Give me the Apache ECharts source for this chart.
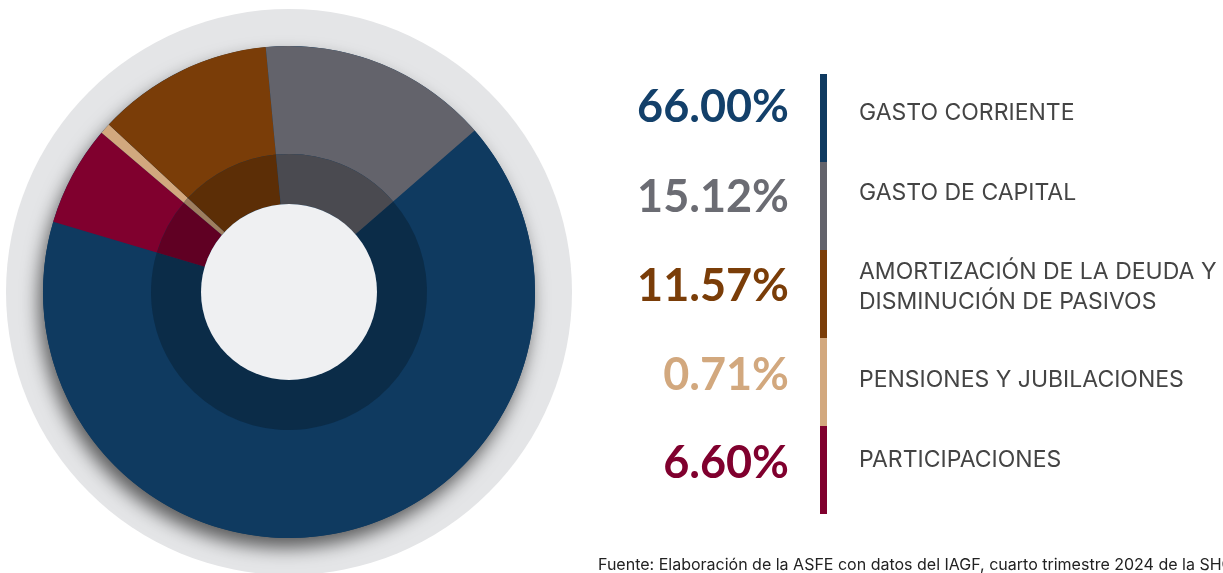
<!DOCTYPE html>
<html>
<head>
<meta charset="utf-8">
<script src="https://cdn.jsdelivr.net/npm/echarts@6/dist/echarts.min.js"></script>
<style>
  html, body { margin: 0; padding: 0; background: #fff; overflow: hidden; }
  #main { width: 1223px; height: 573px; }
</style>
</head>
<body>
<div id="main"></div>
<script>
// data, in pie order (clockwise from the top right)
var categories = [
  'GASTO CORRIENTE',
  'PARTICIPACIONES',
  'PENSIONES Y JUBILACIONES',
  'AMORTIZACIÓN DE LA DEUDA Y\nDISMINUCIÓN DE PASIVOS',
  'GASTO DE CAPITAL'
];
var shares = [66.00, 6.60, 0.71, 11.57, 15.12];
var colors = ['#0f3a60', '#80002e', '#d2a87e', '#7a3d08', '#63636b'];
var textColors = ['#13406a', '#80002e', '#d2a87e', '#7a3d08', '#6b6c73'];
// order of the rows on the right, top to bottom
var legendOrder = [0, 4, 3, 2, 1];
var source = 'Fuente: Elaboración de la ASFE con datos del IAGF, cuarto trimestre 2024 de la SHCP.';

(function () {
  var myChart = echarts.init(document.getElementById('main'));
  var center = [289, 292];

  function darken(hex, f) {
    var n = parseInt(hex.slice(1), 16);
    var r = Math.round(((n >> 16) & 255) * f);
    var g = Math.round(((n >> 8) & 255) * f);
    var b = Math.round((n & 255) * f);
    return 'rgb(' + r + ',' + g + ',' + b + ')';
  }

  var pieData = categories.map(function (c, i) {
    return { name: c, value: shares[i], itemStyle: { color: colors[i] } };
  });
  var innerData = categories.map(function (c, i) {
    return { name: c, value: shares[i], itemStyle: { color: darken(colors[i], 0.75) } };
  });

  function plainCircle(r, color, extra) {
    return {
      type: 'pie',
      center: center,
      radius: r,
      silent: true,
      animation: false,
      label: { show: false },
      labelLine: { show: false },
      itemStyle: Object.assign({ color: color, borderWidth: 0 }, extra || {}),
      data: [{ value: 1 }]
    };
  }

  // right side rows
  var graphics = [];
  var rowTop = 74, rowH = 88;
  var pctY = [107, 197, 286, 375, 463];
  var labelY = [113, 193, 287, 380, 460];
  legendOrder.forEach(function (idx, k) {
    graphics.push({
      type: 'rect',
      shape: { x: 820, y: rowTop + rowH * k, width: 7, height: rowH },
      style: { fill: colors[idx] }
    });
    graphics.push({
      type: 'text',
      x: 789, y: pctY[k],
      style: {
        text: shares[idx].toFixed(2) + '%',
        fill: textColors[idx],
        font: 'bold 45px Lato',
        align: 'right',
        verticalAlign: 'middle'
      }
    });
    graphics.push({
      type: 'text',
      x: 859, y: labelY[k],
      style: {
        text: categories[idx],
        fill: '#444444',
        font: '23px Inter',
        lineHeight: 30,
        align: 'left',
        verticalAlign: 'middle'
      }
    });
  });
  graphics.push({
    type: 'text',
    x: 598, y: 565,
    style: {
      text: source,
      fill: '#222222',
      font: '16px Inter',
      align: 'left',
      verticalAlign: 'middle'
    }
  });

  var option = {
    backgroundColor: '#ffffff',
    animation: false,
    graphic: graphics,
    series: [
      plainCircle([0, 283], '#e4e5e7'),
      plainCircle([0, 246], '#0f3a60', {
        shadowBlur: 18,
        shadowOffsetX: -4,
        shadowOffsetY: 10,
        shadowColor: 'rgba(0,0,0,0.6)'
      }),
      {
        type: 'pie',
        center: center,
        radius: [138, 246],
        startAngle: 41,
        clockwise: true,
        silent: true,
        label: { show: false },
        labelLine: { show: false },
        itemStyle: { borderWidth: 0 },
        data: pieData
      },
      {
        type: 'pie',
        center: center,
        radius: [88, 138],
        startAngle: 41,
        clockwise: true,
        silent: true,
        label: { show: false },
        labelLine: { show: false },
        itemStyle: { borderWidth: 0 },
        data: innerData
      },
      plainCircle([0, 88], '#eff0f2')
    ]
  };

  myChart.setOption(option);
})();
</script>
</body>
</html>
